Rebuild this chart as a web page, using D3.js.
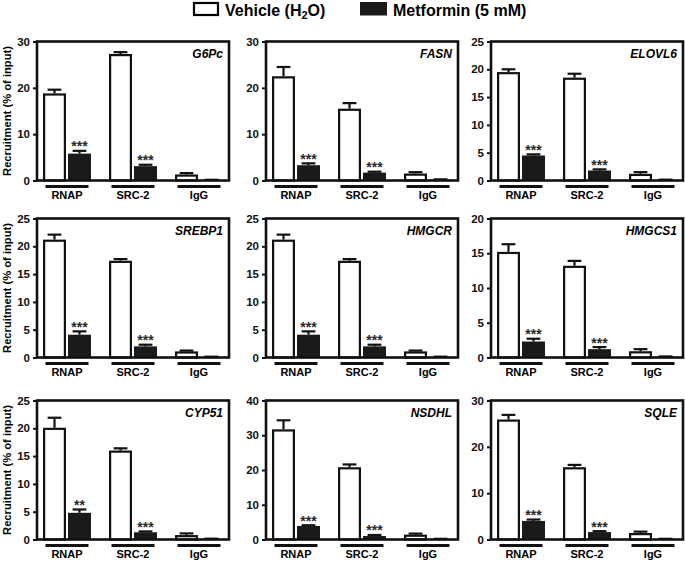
<!DOCTYPE html>
<html><head><meta charset="utf-8">
<script src="https://cdn.jsdelivr.net/npm/d3@7/dist/d3.min.js"></script>
<style>body{margin:0;background:#fff}svg{display:block}text{font-family:Arial,"Liberation Sans",sans-serif}</style>
</head><body><svg id="c" width="685" height="561"></svg>
<script>
const genes = ["G6Pc","FASN","ELOVL6","SREBP1","HMGCR","HMGCS1","CYP51","NSDHL","SQLE"];
const yMax = [30,30,25,25,25,20,25,40,30];
const yStep = [10,10,5,5,5,5,5,10,10];
const groups = ["RNAP","SRC-2","IgG"];
const treatments = ["Vehicle (H2O)","Metformin (5 mM)"];
const vehicleMean = [[18.8,27.3,1.3],[22.5,15.5,1.5],[19.5,18.5,1.2],[21.2,17.4,1.1],[21.2,17.4,1.1],[15.2,13.2,0.9],[20.1,16.0,0.8],[31.7,20.8,1.4],[25.9,15.6,1.4]];
const vehicleErr = [[0.8,0.4,0.3],[2.0,1.2,0.3],[0.5,0.7,0.3],[0.9,0.3,0.15],[0.9,0.3,0.15],[1.1,0.7,0.3],[1.8,0.4,0.3],[2.6,0.8,0.3],[1.0,0.5,0.3]];
const metforminMean = [[5.8,3.1,0.1],[3.3,1.7,0.2],[4.5,1.8,0.1],[4.1,2.0,0.1],[4.1,2.0,0.1],[2.3,1.2,0.1],[4.8,1.3,0.1],[3.9,1.0,0.15],[4.0,1.6,0.1]];
const metforminErr = [[0.6,0.3,0.05],[0.4,0.2,0.05],[0.2,0.2,0.05],[0.6,0.3,0.05],[0.6,0.3,0.05],[0.4,0.3,0.05],[0.6,0.15,0.05],[0.2,0.3,0.05],[0.3,0.2,0.05]];
const significance = [["***","***",""],["***","***",""],["***","***",""],["***","***",""],["***","***",""],["***","***",""],["**","***",""],["***","***",""],["***","***",""]];
const yLabel = "Recruitment (% of input)";

const svg = d3.select("#c");
const colX = [37, 266, 491], rowY = [41.5, 218.5, 400.5];
const W = 192, H = 139;

// legend
const lg = svg.append("g");
lg.append("rect").attr("x",194).attr("y",3).attr("width",24).attr("height",12).attr("fill","#fff").attr("stroke","#000").attr("stroke-width",2.2);
const t1 = lg.append("text").attr("x",225).attr("y",16).attr("font-size",16).attr("font-weight","bold");
t1.append("tspan").text("Vehicle (H");
t1.append("tspan").attr("font-size",11).attr("dy",3).text("2");
t1.append("tspan").attr("dy",-3).text("O)");
lg.append("rect").attr("x",360).attr("y",2).attr("width",27).attr("height",13.5).attr("fill","#1a1a1a");
lg.append("text").attr("x",393).attr("y",16).attr("font-size",16).attr("font-weight","bold").text(treatments[1]);

genes.forEach((gene, i) => {
  const col = i % 3, row = Math.floor(i / 3);
  const g = svg.append("g").attr("transform", `translate(${colX[col]},${rowY[row]})`);
  const y = d3.scaleLinear().domain([0, yMax[i]]).range([H, 0]);
  const x0 = d3.scaleBand().domain(groups).range([6, 186]).paddingInner(0.273).paddingOuter(0);
  const x1 = d3.scaleBand().domain([0,1]).range([0, x0.bandwidth()]).paddingInner(0.08);
  const data = groups.flatMap((grp, k) => [
    {grp, t:0, v: vehicleMean[i][k], e: vehicleErr[i][k], s: ""},
    {grp, t:1, v: metforminMean[i][k], e: metforminErr[i][k], s: significance[i][k]}
  ]);
  // error bars
  data.forEach(d => {
    const cx = x0(d.grp) + x1(d.t) + x1.bandwidth()/2;
    const cw = x1.bandwidth()*0.6;
    g.append("line").attr("x1",cx).attr("x2",cx).attr("y1",y(d.v)).attr("y2",y(d.v+d.e)).attr("stroke","#111").attr("stroke-width",2.2);
    g.append("line").attr("x1",cx-cw/2).attr("x2",cx+cw/2).attr("y1",y(d.v+d.e)).attr("y2",y(d.v+d.e)).attr("stroke","#111").attr("stroke-width",2.2);
    if (d.s) g.append("text").attr("x",cx).attr("y",y(d.v+d.e)+0.5).attr("text-anchor","middle").attr("font-size",14).attr("font-weight","bold").attr("fill","#2a2a2a").text(d.s);
  });
  // bars
  g.selectAll("rect.bar").data(data).join("rect").attr("class","bar")
    .attr("x", d => x0(d.grp) + x1(d.t) + (d.t===0?1.1:0))
    .attr("width", d => x1.bandwidth() - (d.t===0?2.2:0))
    .attr("y", d => y(d.v) + (d.t===0?1.1:0))
    .attr("height", d => Math.max(0, H - y(d.v) - (d.t===0?1.1:0)))
    .attr("fill", d => d.t===0 ? "#fff" : "#1a1a1a")
    .attr("stroke", d => d.t===0 ? "#111" : "none")
    .attr("stroke-width", 2.2);
  // frame
  g.append("rect").attr("x",0).attr("y",0).attr("width",W).attr("height",H).attr("fill","none").attr("stroke","#111").attr("stroke-width",2.6);
  // y axis
  const ax = g.append("g").call(d3.axisLeft(y).tickValues(d3.range(0, yMax[i]+0.001, yStep[i])).tickSize(4).tickPadding(3).tickFormat(d3.format("d")));
  ax.select(".domain").remove();
  ax.selectAll(".tick line").attr("stroke","#111").attr("stroke-width",2);
  ax.selectAll(".tick text").attr("font-size",11.5).attr("font-weight","bold").attr("fill","#111").attr("font-family","Arial,'Liberation Sans',sans-serif");
  // gene label
  g.append("text").attr("x",W-6).attr("y",16).attr("text-anchor","end").attr("font-size",12).attr("font-weight","bold").attr("font-style","italic").text(gene);
  // group underlines and labels
  groups.forEach(grp => {
    const c = x0(grp) + x0.bandwidth()/2;
    g.append("line").attr("x1",c-21.5).attr("x2",c+21.5).attr("y1",H+6).attr("y2",H+6).attr("stroke","#111").attr("stroke-width",3);
    g.append("text").attr("x",c).attr("y",H+18.5).attr("text-anchor","middle").attr("font-size",11).attr("font-weight","bold").text(grp);
  });
  if (col === 0) {
    svg.append("text").attr("transform",`translate(${11},${rowY[row]+H/2}) rotate(-90)`).attr("text-anchor","middle").attr("font-size",11.2).attr("font-weight","bold").text(yLabel);
  }
});
</script></body></html>
